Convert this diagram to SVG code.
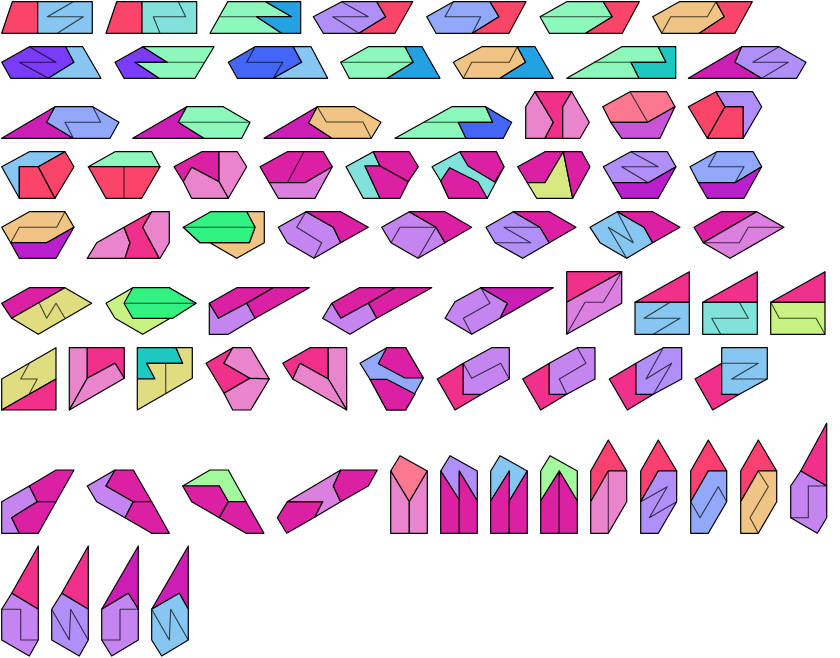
<svg xmlns="http://www.w3.org/2000/svg" width="840" height="658" viewBox="0 0 840 658">
<style>
polygon,rect{stroke:#000;stroke-width:1.2;stroke-linejoin:round}
rect.bg{stroke:none;fill:#fff}
polyline,line{fill:none;stroke:#000;stroke-width:1.1;stroke-opacity:.7;stroke-linejoin:round}
.r{fill:#fa4468}.r2{fill:#fa4070}.lb{fill:#86c6f0}.cy{fill:#80e2da}.mg{fill:#8cf8bc}.bb{fill:#22a2e2}
.lv{fill:#b090f8}.pw{fill:#92a8fa}.or{fill:#f0c484}.vi{fill:#7a3cf8}.rb{fill:#4466f6}.tl{fill:#1ec8c0}
.mz{fill:#cc1eb4}.hp{fill:#f0308a}.pk{fill:#ea84cc}.sa{fill:#fc7890}.pu{fill:#c855d8}.mq{fill:#dc20a4}
.li{fill:#dc80e0}.yg{fill:#d8e880}.dp{fill:#bb1ecc}.lc{fill:#c485f0}.gb{fill:#32f282}.ye{fill:#e0dc80}
.lg{fill:#c8f282}.pg{fill:#a2fa9c}
</style>
<rect class="bg" x="0" y="0" width="840" height="658"/>
<g id="shapes">
<g id="s1"><polygon class="r" points="1.7,33.3 12.3,1.7 37.7,1.7 37.7,33.3"/><polygon class="lb" points="37.7,1.7 92.3,1.7 92.3,33.3 37.7,33.3"/><polyline points="73.3,1.7 47.3,16.7 83.3,16.7 57.3,33.3"/></g>
<g id="s2"><polygon class="r" points="106,33.3 116.7,1.7 142,1.7 142,33.3"/><polygon class="cy" points="142,1.7 196.7,1.7 196.7,33.3 142,33.3"/><polyline points="178.3,1.7 185.7,16.7 153.3,16.7 160,33.3"/></g>
<g id="s3"><polygon class="mg" points="227.7,1.7 265.7,1.7 291.7,16.7 256.7,16.7 281.7,33.3 210,33.3"/><polygon class="bb" points="265.7,1.7 300.7,1.7 300.7,33.3 281.7,33.3 256.7,16.7 291.7,16.7"/><polyline points="218.7,16.7 256.7,16.7"/></g>
<g id="s4"><polygon class="lv" points="313.3,16.7 341.7,1.7 376.7,1.7 385.7,16.7 359,33.3 323.3,33.3"/><polygon class="r" points="376.7,1.7 412.7,1.7 395,33.3 359,33.3 385.7,16.7"/><polyline points="341.7,1.7 368.3,16.7 332.7,16.7 359,33.3"/></g>
<g id="s5"><polygon class="pw" points="426.7,16.7 453.3,1.7 490,1.7 499,16.7 472.3,33.3 436,33.3"/><polygon class="r" points="490,1.7 526,1.7 509,33.3 472.3,33.3 499,16.7"/><polyline points="453.3,1.7 445,16.7 480.7,16.7 472.3,33.3"/></g>
<g id="s6"><polygon class="mg" points="540,16.7 566.7,1.7 603.3,1.7 612.3,16.7 585.7,33.3 549.3,33.3"/><polygon class="r" points="603.3,1.7 639.3,1.7 622.3,33.3 585.7,33.3 612.3,16.7"/><polyline points="540,16.7 612.3,16.7"/></g>
<g id="s7"><polygon class="or" points="652.7,16.7 679.3,1.7 716,1.7 724.3,16.7 699.3,33.3 661.7,33.3"/><polygon class="r" points="716,1.7 752.3,1.7 735,33.3 699.3,33.3 724.3,16.7"/><polyline points="716,1.7 707.3,16.7 670.7,16.7 661.7,33.3"/></g>

<g id="s8"><polygon class="vi" points="1.7,62.3 29.3,46.7 65.7,46.7 74,62.3 48.3,78.3 10.7,78.3"/><polygon class="lb" points="65.7,46.7 82.7,46.7 101,78.3 48.3,78.3 74,62.3"/><polyline points="29.3,46.7 56,62.3 19.3,62.3 48.3,78.3"/></g>
<g id="s9"><polygon class="vi" points="115,62.3 142.7,46.7 167.3,62.3 135,62.3 159.3,78.3 124,78.3"/><polygon class="mg" points="142.7,46.7 214,46.7 195,78.3 159.3,78.3 135,62.3 167.3,62.3"/><polyline points="167.3,62.3 204.6,62.3"/></g>
<g id="s10"><polygon class="rb" points="228.3,62.3 255,46.7 293.3,46.7 301.7,62.3 273.3,78.3 237.3,78.3"/><polygon class="lb" points="293.3,46.7 311,46.7 327.7,78.3 273.3,78.3 301.7,62.3"/><polyline points="255,46.7 246.7,62.3 282.7,62.3 273.3,78.3"/></g>
<g id="s11"><polygon class="mg" points="340.7,62.3 368.3,46.7 405,46.7 413.3,62.3 387.3,78.3 349.3,78.3"/><polygon class="bb" points="405,46.7 422,46.7 440,78.3 387.3,78.3 413.3,62.3"/><polyline points="340.7,62.3 413.3,62.3"/></g>
<g id="s12"><polygon class="or" points="453.3,62.3 481.7,46.7 517.3,46.7 525.7,62.3 500,78.3 463.3,78.3"/><polygon class="bb" points="517.3,46.7 535,46.7 553.3,78.3 500,78.3 525.7,62.3"/><polyline points="517.3,46.7 509.3,62.3 471.7,62.3 463.3,78.3"/></g>
<g id="s13"><polygon class="mg" points="566.7,78.3 621.7,46.7 658.3,46.7 666,62.3 631,62.3 639,78.3"/><polygon class="tl" points="658.3,46.7 675.7,46.7 675.7,78.3 639,78.3 631,62.3 666,62.3"/><polyline points="594,62.3 631,62.3"/></g>
<g id="s14"><polygon class="mz" points="688.3,78.3 741.7,46.7 735,62.3 761.7,78.3"/><polygon class="lv" points="741.7,46.7 779,46.7 806,62.3 796.7,78.3 761.7,78.3 735,62.3"/><polyline points="779,46.7 752.7,62.3 788.3,62.3 761.7,78.3"/></g>

<g id="s15"><polygon class="mz" points="1.7,138.3 55,106.7 46.7,122.3 73.3,138.3"/><polygon class="pw" points="55,106.7 92.7,106.7 119,122.3 110,138.3 73.3,138.3 46.7,122.3"/><polyline points="92.7,106.7 100.7,122.3 65,122.3 73.3,138.3"/></g>
<g id="s16"><polygon class="mz" points="132.7,138.3 186.7,106.7 178.3,122.3 204,138.3"/><polygon class="mg" points="186.7,106.7 223.3,106.7 250,122.3 241.7,138.3 204,138.3 178.3,122.3"/><polyline points="178.3,122.3 250,122.3"/></g>
<g id="s17"><polygon class="mz" points="264,138.3 317.3,106.7 308.7,123 332,138.3"/><polygon class="or" points="317.3,106.7 354.7,106.7 381,122.3 371.3,138.3 332,138.3 308.7,123"/><polyline points="317.3,106.7 326.3,122 363,122 371.3,138.3"/></g>
<g id="s18"><polygon class="mg" points="395,138.3 451.7,106.7 485.7,106.7 492.7,122.3 458.3,122.3 466,138.3"/><polygon class="rb" points="485.7,106.7 511.7,122.3 503.3,138.3 466,138.3 458.3,122.3 492.7,122.3"/><polyline points="423.7,122.3 458.3,122.3"/></g>
<g id="s19"><polygon class="pk" points="525.7,106.7 535,91.7 553.3,122.3 545,138.3 525.7,138.3"/><polygon class="hp" points="535,91.7 571.7,91.7 562.7,106.7 562.7,138.3 545,138.3 553.3,122.3"/><polygon class="pk" points="571.7,91.7 589.3,122.3 580,138.3 562.7,138.3 562.7,106.7"/></g>
<g id="s20"><polygon class="sa" points="602.7,106.7 630,91.7 666.7,91.7 675,106.7 647.7,122.3 610.7,122.3"/><polyline points="630,91.7 647.7,122.3"/><polygon class="pu" points="610.7,122.3 647.7,122.3 675,106.7 660,138.3 621.7,138.3"/></g>
<g id="s21"><polygon class="r" points="688.3,106.7 716,91.7 725,106.7 707.3,138.3"/><polygon class="r" points="725,106.7 743.3,106.7 743.3,138.3 707.3,138.3"/><polygon class="lv" points="716,91.7 752.7,91.7 761.7,106.7 743.3,138.3 743.3,106.7 725,106.7"/></g>

<g id="s22"><polygon class="lb" points="1.7,166.7 29.3,151.7 65,151.7 38.3,166.7 19.3,166.7 19.3,198.3"/><polygon class="r" points="19.3,166.7 38.3,166.7 55,198.3 19.3,198.3"/><polygon class="r" points="38.3,166.7 65,151.7 74,166.7 55,198.3"/></g>
<g id="s23"><polygon class="mg" points="88.3,166.7 115,151.7 151.7,151.7 160,166.7"/><polygon class="r" points="88.3,166.7 160,166.7 141.7,198.3 106,198.3"/><polyline points="124,166.7 124,198.3"/></g>
<g id="s24"><polygon class="mq" points="174,166.7 201.7,151.7 219,151.7 219,181.7 191.7,167.3 183.3,181.7"/><polygon class="pk" points="219,151.7 237.3,151.7 246.7,166.7 228.3,198.3 219,181.7"/><polygon class="pk" points="183.3,181.7 191.7,167.3 219,181.7 228.3,198.3 191.7,198.3"/></g>
<g id="s25"><polygon class="mq" points="260,166.7 287.3,151.7 323.3,151.7 332.3,166.7 305,182.7 269.3,182.7"/><polyline points="304,151.7 287.3,182.7"/><polygon class="li" points="269.3,182.7 305,182.7 332.3,166.7 315,198.3 278.3,198.3"/></g>
<g id="s26"><polygon class="cy" points="346,166.7 373.3,151.7 380,166 365,166 380,198.3 363.3,198.3"/><polygon class="mq" points="373.3,151.7 409.3,151.7 418.3,166.7 408.3,181.7 380,166"/><polygon class="mq" points="365,166 380,166 408.3,181.7 400,198.3 380,198.3"/></g>
<g id="s27"><polygon class="cy" points="432,166.7 459.7,151.7 496.3,151.7 504,166.7 487.3,198.3 448.7,198.3 440.7,181"/><polygon class="mq" points="459.7,151.7 496.3,151.7 504,166.7 494.7,182 468,166"/><polygon class="mq" points="440.7,181 449.7,167.7 478,182 487.3,198.3 448.7,198.3"/></g>
<g id="s28"><polygon class="mq" points="517.7,166.7 545,151.7 563.3,151.7 545,182.7 527.3,182.7"/><polygon class="yg" points="527.3,182.7 545,182.7 563.3,151.7 572.7,198.3 536.7,198.3"/><polygon class="mq" points="563.3,151.7 581.7,151.7 590,166.7 572.7,198.3"/></g>
<g id="s29"><polygon class="lv" points="603.3,166.7 630.7,151.7 667.3,151.7 676,166.7 648.3,182.7 612.7,182.7"/><polyline points="630.7,151.7 658.3,166.7 621.7,166.7 648.3,182.7"/><polygon class="dp" points="612.7,182.7 648.3,182.7 676,166.7 658.3,198.3 621.7,198.3"/></g>
<g id="s30"><polygon class="pw" points="690,166.7 716.7,151.7 753.3,151.7 761.7,166.7 735,182.7 698.3,182.7"/><polyline points="716.7,151.7 708.3,166.7 744,166.7 735,182.7"/><polygon class="dp" points="698.3,182.7 735,182.7 761.7,166.7 744,198.3 707.3,198.3"/></g>

<g id="s31"><polygon class="or" points="1.7,227.3 29.3,211.7 65,211.7 74,227.3 46.7,242.7 10.7,242.7"/><polyline points="65,211.7 56.7,227.3 19.3,227.3 10.7,242.7"/><polygon class="dp" points="10.7,242.7 46.7,242.7 74,227.3 56,258.3 19.3,258.3"/></g>
<g id="s32"><polygon class="pk" points="87.3,258.3 96.7,242.7 124,227.3 130,242.7 125,258.3"/><polygon class="hp" points="124,227.3 151.7,211.7 142.7,227.3 159.3,258.3 125,258.3 130,242.7"/><polygon class="pk" points="151.7,211.7 169.3,211.7 169.3,242.7 160,258.3 159.3,258.3 142.7,227.3"/></g>
<g id="s33"><polygon class="or" points="183.3,227.3 200,242.7 249.3,242.7 255,227.3 246.7,211.7 264.3,211.7 264.3,242.7 236.7,258.3"/><polygon class="gb" points="183.3,227.3 210.7,211.7 246.7,211.7 255,227.3 249.3,242.7 200,242.7"/><polyline points="183.3,227.3 255,227.3"/></g>
<g id="s34"><polygon class="lc" points="278.3,227.3 306,211.7 333.3,227.3 340.7,242.7 314,258.3 287.3,242.7"/><polygon class="mq" points="306,211.7 340.7,211.7 368.3,227.3 340.7,242.7 333.3,227.3"/><polyline points="306,211.7 296.7,227.3 321.7,242.7 314,258.3"/></g>
<g id="s35"><polygon class="lc" points="381.7,227.3 409.3,211.7 436,227.3 445,242.7 418,258.3 391,242.7"/><polygon class="mq" points="409.3,211.7 445,211.7 471.7,227.3 445,242.7 436,227.3"/><polyline points="391,242.7 400,227.3 436,227.3 418,258.3"/></g>
<g id="s36"><polygon class="lv" points="486,227.3 513.3,211.7 540,227.3 549.3,242.7 522.7,258.3 495,242.7"/><polygon class="mq" points="513.3,211.7 549.3,211.7 576,227.3 549.3,242.7 540,227.3"/><polyline points="540,227.3 504,227.3 530.7,242.7 495,242.7"/></g>
<g id="s37"><polygon class="lb" points="590,227.3 617.3,211.7 644,227.3 652.7,242.7 626.7,258.3 600,242.7"/><polygon class="mq" points="617.3,211.7 652.7,211.7 680,227.3 652.7,242.7 644,227.3"/><polyline points="617.3,211.7 633.3,242.7 608.3,227.3 626.7,258.3"/></g>
<g id="s38"><polygon class="mq" points="694,227.3 721,211.7 756.7,211.7 703.3,242.7"/><polygon class="li" points="703.3,242.7 756.7,211.7 784,227.3 730,258.3"/><polyline points="703.3,242.7 739.3,242.7 748.3,227.3 784,227.3"/></g>

<g id="s39"><polygon class="mq" points="1.7,303.3 29.3,287.7 65,287.7 11.7,318.3"/><polygon class="ye" points="11.7,318.3 65,287.7 91.7,303.3 38.3,334.3"/><polyline points="39.3,303.3 46.7,318.3 56,303.3 65,318.3"/></g>
<g id="s40"><polygon class="lg" points="106,303.3 132.7,287.7 169.3,287.7 196,303.3 142.7,334.3 115,318.3"/><polygon class="gb" points="132.7,287.7 169.3,287.7 196,303.3 172.7,318.3 132.7,318.3 124,303.3"/><polyline points="124,303.3 196,303.3"/></g>
<g id="s41"><polygon class="mq" points="209.3,303.3 236.7,287.7 273.3,287.7 246.7,303.3 218.3,318.3"/><polygon class="mq" points="273.3,287.7 309.3,287.7 255,318.3 246.7,303.3"/><polygon class="lc" points="209.3,303.3 218.3,318.3 246.7,303.3 255,318.3 228.3,334.3 209.3,334.3"/></g>
<g id="s42"><polygon class="mq" points="331.7,303.3 359.3,287.7 395,287.7 368.3,303.3 340.7,318.3"/><polygon class="mq" points="395,287.7 431.7,287.7 376.7,318.3 368.3,303.3"/><polygon class="lc" points="322.7,318.3 331.7,303.3 340.7,318.3 368.3,303.3 376.7,318.3 350,334.3"/></g>
<g id="s43"><polygon class="mz" points="480.7,287.7 553.3,287.7 500,318.3 507.3,303.3"/><polygon class="lc" points="445,318.3 455,301.7 480.7,287.7 507.3,303.3 500,318.3 471.7,334.3"/><polyline points="480.7,287.7 490,303.3 463.3,318.3 471.7,334.3"/></g>
<g id="s44"><polygon class="hp" points="566.7,271.7 621.7,271.7 566.7,302.3"/><polygon class="li" points="566.7,302.3 621.7,271.7 621.7,303.3 566.7,334.3"/><polyline points="621.7,271.7 603.3,302.3 585,302.3 566.7,334.3"/></g>
<g id="s45"><polygon class="hp" points="635,302.3 689.3,271.7 689.3,302.3"/><rect class="lb" x="635" y="302.3" width="54.3" height="32"/><polyline points="670,302.3 644,318.3 680,318.3 653.3,334.3"/></g>
<g id="s46"><polygon class="hp" points="702.7,302.3 757.3,271.7 757.3,302.3"/><rect class="cy" x="702.7" y="302.3" width="54.6" height="32"/><polyline points="739.3,302.3 748.3,318.3 711.7,318.3 720.7,334.3"/></g>
<g id="s47"><polygon class="hp" points="770.7,302.3 825,271.7 825,302.3"/><rect class="lg" x="770.7" y="302.3" width="54.3" height="32"/><polyline points="770.7,302.3 779.3,318.3 816,318.3 825,334.3"/></g>

<g id="s48"><polygon class="ye" points="1.7,379 56,347.7 56,379 1.7,410"/><polygon class="hp" points="1.7,410 56,379 56,410"/><polyline points="29.3,363.3 20.7,379 37.3,379 29.3,393.7"/></g>
<g id="s49"><polygon class="pk" points="69.3,347.7 87.3,347.7 87.3,378.3 69.3,410"/><polygon class="hp" points="87.3,347.7 124.3,347.7 124.3,378.3 115,363.3 87.3,378.3"/><polygon class="pk" points="87.3,378.3 115,363.3 124.3,378.3 69.3,410"/></g>
<g id="s50"><polygon class="tl" points="137.3,347.7 176,347.7 182.7,363.3 146.7,363.3 155,379 137.3,379"/><polygon class="ye" points="176,347.7 192.3,347.7 192.3,378.3 137.3,410 137.3,379 155,379 146.7,363.3 182.7,363.3"/><polyline points="165.7,363.3 165.7,393.3"/></g>
<g id="s51"><polygon class="hp" points="206,363.3 232.7,347.7 224,363.3 250,378.3 224,393.3"/><polygon class="pk" points="232.7,347.7 250.7,347.7 269.3,379 250,378.3 224,363.3"/><polygon class="pk" points="224,393.3 250,378.3 269.3,379 250.7,410 232.7,410"/></g>
<g id="s52"><polygon class="hp" points="282.7,363.3 310,347.7 328.3,347.7 328.3,379 300,363.3 292.7,379"/><polygon class="pk" points="328.3,347.7 346.7,347.7 346.7,410 328.3,379"/><polygon class="pk" points="292.7,379 300,363.3 328.3,379 346.7,410"/></g>
<g id="s53"><polygon class="pw" points="360,363.3 386.7,347.7 405.7,347.7 423.3,378 405.7,410 386.7,410 370,379.3"/><polygon class="mq" points="386.7,347.7 405.7,347.7 423.3,378 405,378 378.3,363.7"/><polygon class="mq" points="370,379.3 386.7,379.3 415,394 405.7,410 386.7,410"/></g>
<g id="s54"><polygon class="hp" points="437.3,379 463.3,363.3 463.3,394.3 481.7,394.3 455,410"/><polygon class="lc" points="463.3,363.3 491.7,347.7 509.3,347.7 509.3,379 481.7,394.3 463.3,394.3"/><polyline points="463.3,363.3 471.7,378.3 500.7,363.3 509.3,379"/></g>
<g id="s55"><polygon class="hp" points="522.7,379 549.3,363.3 549.3,394.3 566.7,394.3 540.7,410"/><polygon class="lc" points="549.3,363.3 577.3,347.7 595,347.7 595,379 566.7,394.3 549.3,394.3"/><polyline points="577.3,347.7 586,363.3 559.3,379 566.7,394.3"/></g>
<g id="s56"><polygon class="hp" points="609.3,379 636,363.3 636,394.3 653.3,394.3 627.3,410"/><polygon class="lv" points="636,363.3 663.3,347.7 681.7,347.7 681.7,379 653.3,394.3 636,394.3"/><polyline points="663.3,347.7 646,379 671.7,363.3 653.3,394.3"/></g>
<g id="s57"><polygon class="hp" points="695,379 721.7,363.3 721.7,394.3 739.3,394.3 712.7,410"/><polygon class="lb" points="721.7,347.7 767.3,347.7 767.3,379 739.3,394.3 721.7,394.3"/><polyline points="721.7,363.3 758.3,363.3 731.7,379 767.3,379"/></g>

<g id="s58"><polygon class="lc" points="1.7,501.7 29.3,486 37.3,501.7 11.7,517.7 19.3,533.3 1.7,533.3"/><polygon class="mq" points="29.3,486 56,470 74,470 56,501.7 37.3,501.7"/><polygon class="mq" points="11.7,517.7 37.3,501.7 56,501.7 38.3,533.3 19.3,533.3"/></g>
<g id="s59"><polygon class="lc" points="87.3,486 115,470 106,486 133.3,501.7 125,517.7 96.7,501.7"/><polygon class="mq" points="115,470 133.3,470 151.7,501.7 133.3,501.7 106,486"/><polygon class="mq" points="125,517.7 133.3,501.7 151.7,501.7 169.3,533.3 151.7,533.3"/></g>
<g id="s60"><polygon class="pg" points="182.7,486 210,470 228.3,470 246,501.7 228.3,501.7 219.3,486"/><polygon class="mq" points="182.7,486 219.3,486 228.3,501.7 219.3,517.7 191.7,501.7"/><polygon class="mq" points="219.3,517.7 228.3,501.7 246,501.7 264,533.3 246,533.3"/></g>
<g id="s61"><polygon class="mq" points="277.3,517.7 287.3,501.7 322.7,501.7 315,517 286.7,533.3"/><polygon class="li" points="287.3,501.7 340.7,470 333.3,486 340.7,501.7 315,517 322.7,501.7"/><polygon class="mq" points="340.7,470 377.3,470 368.3,486 340.7,501.7 333.3,486"/></g>
<g id="s62"><polygon class="sa" points="390.7,471 400,455.7 427.3,471 409.3,501.7"/><polygon class="pk" points="390.7,471 409.3,501.7 409.3,533.3 390.7,533.3"/><polygon class="pk" points="409.3,501.7 427.3,471 427.3,533.3 409.3,533.3"/></g>
<g id="s63"><polygon class="lv" points="440.7,471 450,455.7 477.3,471 477.3,501 459.3,471 459.3,500"/><polygon class="mq" points="440.7,471 459.3,500 459.3,533.3 440.7,533.3"/><polygon class="mq" points="459.3,471 477.3,501 477.3,533.3 459.3,533.3"/></g>
<g id="s64"><polygon class="lb" points="490.7,471 500,455.7 527.3,471 509.3,501 509.3,471 490.7,501"/><polygon class="mq" points="490.7,501 509.3,471 509.3,533.3 490.7,533.3"/><polygon class="mq" points="509.3,501 527.3,471 527.3,533.3 509.3,533.3"/></g>
<g id="s65"><polygon class="pg" points="540.7,471 550,455.7 577.3,471 577.3,501 559.3,471 540.7,501"/><polygon class="mq" points="540.7,501 559.3,471 559.3,533.3 540.7,533.3"/><polygon class="mq" points="559.3,471 577.3,501 577.3,533.3 559.3,533.3"/></g>
<g id="s66"><polygon class="r2" points="590.7,471 608.3,440 626.7,471 608.3,471 590.7,501.7"/><polygon class="pk" points="590.7,501.7 608.3,471 626.7,471 626.7,501.7 608.3,533.3 590.7,533.3"/><polyline points="608.3,471 608.3,533.3"/></g>
<g id="s67"><polygon class="r2" points="640.7,471 658.3,440 676.7,471 658.3,471 640.7,501.7"/><polygon class="lv" points="640.7,501.7 658.3,471 676.7,471 676.7,501.7 658.3,533.3 640.7,533.3"/><polyline points="640.7,501.7 667.3,486.7 649.3,517.7 676.7,501.7"/></g>
<g id="s68"><polygon class="r2" points="690.7,471 708.3,440 726.7,471 708.3,471 690.7,501.7"/><polygon class="pw" points="690.7,501.7 708.3,471 726.7,471 726.7,501.7 708.3,533.3 690.7,533.3"/><polyline points="690.7,501.7 700,517.7 718.3,486.7 726.7,501.7"/></g>
<g id="s69"><polygon class="r2" points="740.7,471 758.3,440 776.7,471 758.3,471 740.7,501.7"/><polygon class="or" points="740.7,501.7 758.3,471 776.7,471 776.7,501.7 758.3,533.3 740.7,533.3"/><polyline points="758.3,471 768.3,486.7 750,517.7 758.3,533.3"/></g>
<g id="s70"><polygon class="hp" points="800.7,471 826.7,423.3 826.7,486"/><polygon class="lc" points="790.7,486 800.7,471 826.7,486 826.7,517.7 817.3,533.3 790.7,517.7"/><polyline points="826.7,486 808.3,486 808.3,517.7 790.7,517.7"/></g>

<g id="s71"><polygon class="hp" points="11.7,593.3 38.3,546 38.3,609.3"/><polygon class="lc" points="1.7,609.3 11.7,593.3 38.3,609.3 38.3,640 29.3,656 1.7,640"/><polyline points="1.7,609.3 20.7,609.3 20.7,640 38.3,640"/></g>
<g id="s72"><polygon class="hp" points="61.7,593.3 88.3,546 88.3,609.3"/><polygon class="lv" points="51.7,609.3 61.7,593.3 88.3,609.3 88.3,640 79.3,656 51.7,640"/><polyline points="51.7,609.3 69.3,640 70.7,609.3 88.3,640"/></g>
<g id="s73"><polygon class="mz" points="101.7,609.3 138.3,546 138.3,609.3 128.3,593.3"/><polygon class="lc" points="101.7,609.3 128.3,593.3 138.3,609.3 138.3,640 111.7,656 101.7,640"/><polyline points="101.7,640 120,640 120,609.3 138.3,609.3"/></g>
<g id="s74"><polygon class="mz" points="151.7,609.3 188.3,546 188.3,609.3 179.3,593.3"/><polygon class="lb" points="151.7,609.3 179.3,593.3 188.3,609.3 188.3,640 161.7,656 151.7,640"/><polyline points="151.7,609.3 169.3,640 170.7,609.3 188.3,640"/></g>
</g>
</svg>
